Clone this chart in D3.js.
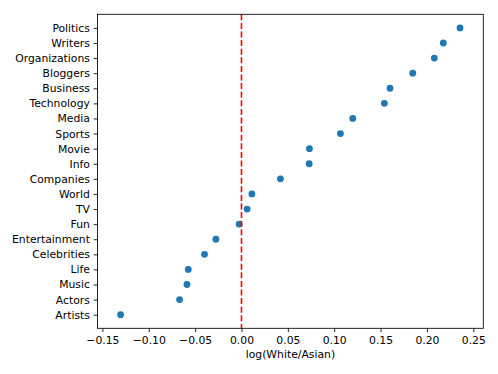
<!DOCTYPE html>
<html><head><meta charset="utf-8">
<script src="https://cdn.jsdelivr.net/npm/d3@7"></script>
<style>body{margin:0;background:#fff}svg text{font-family:"DejaVu Sans",sans-serif}</style>
</head><body><svg id="c" width="498" height="374"></svg>
<script>
const categories = ["Artists","Actors","Music","Life","Celebrities","Entertainment","Fun","TV","World","Companies","Info","Movie","Sports","Media","Technology","Business","Bloggers","Organizations","Writers","Politics"];
const values = [-0.1304,-0.0668,-0.0588,-0.0574,-0.0399,-0.0276,-0.0025,0.0061,0.0112,0.0420,0.0730,0.0733,0.1067,0.1200,0.1541,0.1602,0.1847,0.2080,0.2177,0.2357];
const xTicks = [-0.15,-0.10,-0.05,0.00,0.05,0.10,0.15,0.20,0.25];
const xLabel = "log(White/Asian)";

const svg = d3.select("#c");
const L = 97.5, R = 483.3, T = 14.3, B = 328.3;
const x = d3.scaleLinear().domain([-0.1553, 0.2608]).range([L, R]);
const y = d3.scaleLinear().domain([-0.9, categories.length - 1 + 0.9]).range([B, T]);

// points
svg.append("g").selectAll("circle").data(values).join("circle")
  .attr("cx", d => x(d)).attr("cy", (d, i) => y(i)).attr("r", 3.4)
  .attr("fill", "#1f77b4");

// red dashed line
svg.append("line").attr("x1", x(0)).attr("x2", x(0)).attr("y1", T).attr("y2", B)
  .attr("stroke", "red").attr("stroke-width", 1.6).attr("stroke-dasharray", "6,2.6");

// axes
const xAxis = d3.axisBottom(x).tickValues(xTicks).tickSize(3.8).tickPadding(3.8)
  .tickFormat(d => d3.format(".2f")(d).replace("-", "\u2212"));
const gx = svg.append("g").attr("transform", `translate(0,${B})`).call(xAxis);
const yAxis = d3.axisLeft(y).tickValues(d3.range(categories.length)).tickSize(3.8).tickPadding(3.8)
  .tickFormat(i => categories[i]);
const gy = svg.append("g").attr("transform", `translate(${L},0)`).call(yAxis);
[gx, gy].forEach(g => {
  g.select(".domain").remove();
  g.selectAll("line").attr("stroke", "#000").attr("stroke-width", 0.86);
  g.selectAll("text").attr("font-size", 10.8).attr("fill", "#000").attr("font-family", "DejaVu Sans");
});

// frame
svg.append("rect").attr("x", L).attr("y", T).attr("width", R - L).attr("height", B - T)
  .attr("fill", "none").attr("stroke", "#000").attr("stroke-width", 0.86);

svg.append("text").attr("x", (L + R) / 2).attr("y", 358).attr("text-anchor", "middle")
  .attr("font-size", 10.8).attr("fill", "#000").text(xLabel);
</script></body></html>
